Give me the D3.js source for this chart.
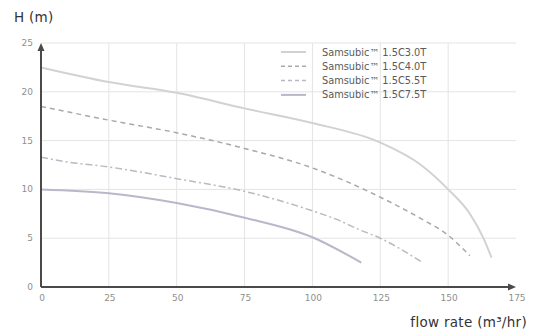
<!DOCTYPE html>
<html>
<head>
<meta charset="utf-8">
<script src="https://cdn.jsdelivr.net/npm/d3@7"></script>
<style>
  html, body { margin: 0; padding: 0; background: #fff; }
  svg { display: block; }
</style>
</head>
<body>
<svg id="chart" width="545" height="332"></svg>
<script>
// ---- data ----
const xTicks = [0, 25, 50, 75, 100, 125, 150, 175];
const yTicks = [0, 5, 10, 15, 20, 25];
const seriesNames = ["Samsubic\u2122 1.5C3.0T", "Samsubic\u2122 1.5C4.0T", "Samsubic\u2122 1.5C5.5T", "Samsubic\u2122 1.5C7.5T"];
const flow1 = [0, 25, 50, 75, 100, 125, 140, 150, 158, 163, 166];
const head1 = [22.5, 21.0, 19.9, 18.3, 16.8, 14.8, 12.5, 10.0, 7.5, 5.0, 3.0];
const flow2 = [0, 25, 50, 75, 100, 125, 140, 150, 158];
const head2 = [18.5, 17.1, 15.8, 14.2, 12.2, 9.2, 7.0, 5.3, 3.2];
const flow3 = [0, 10, 25, 50, 75, 100, 110, 117, 125, 133, 140];
const head3 = [13.3, 12.8, 12.3, 11.1, 9.8, 7.8, 6.8, 5.9, 5.0, 3.8, 2.6];
const flow4 = [0, 25, 50, 75, 100, 118];
const head4 = [10.0, 9.6, 8.6, 7.1, 5.1, 2.5];

const flows = [flow1, flow2, flow3, flow4];
const heads = [head1, head2, head3, head4];
const styles = [
  { color: "#d2d2d2", width: 2, dash: null },
  { color: "#a9a9a9", width: 1.5, dash: "5,4" },
  { color: "#b9b9c4", width: 1.5, dash: "7,3,2,3" },
  { color: "#b7b8c9", width: 2, dash: null }
];

// ---- layout ----
const svg = d3.select("#chart");
const x = d3.scaleLinear().domain([0, 175]).range([41, 516]);
const y = d3.scaleLinear().domain([0, 25]).range([287, 43]);

// gridlines
svg.append("g").selectAll("line.h").data(yTicks.filter(d => d > 0)).join("line")
  .attr("x1", x(0)).attr("x2", x(175))
  .attr("y1", d => y(d)).attr("y2", d => y(d))
  .attr("stroke", "#e4e4e4").attr("stroke-width", 1);
svg.append("g").selectAll("line.v").data(xTicks.filter(d => d > 0 && d < 175)).join("line")
  .attr("x1", d => x(d)).attr("x2", d => x(d))
  .attr("y1", y(25)).attr("y2", y(0))
  .attr("stroke", "#e4e4e4").attr("stroke-width", 1);

// series
const line = d3.line().x(d => x(d[0])).y(d => y(d[1])).curve(d3.curveMonotoneX);
flows.forEach((f, i) => {
  const pts = f.map((v, j) => [v, heads[i][j]]);
  svg.append("path").datum(pts)
    .attr("d", line)
    .attr("fill", "none")
    .attr("stroke", styles[i].color)
    .attr("stroke-width", styles[i].width)
    .attr("stroke-dasharray", styles[i].dash);
});

// axes
const axisColor = "#4a4a4a";
svg.append("line").attr("x1", x(0)).attr("x2", x(175) - 4).attr("y1", y(0)).attr("y2", y(0))
  .attr("stroke", axisColor).attr("stroke-width", 2);
svg.append("line").attr("x1", x(0)).attr("x2", x(0)).attr("y1", y(0)).attr("y2", y(25) + 4)
  .attr("stroke", axisColor).attr("stroke-width", 2);
// arrowheads
svg.append("path")
  .attr("d", `M${x(175)},${y(0)} l-8,-3.5 l0,7 z`)
  .attr("fill", axisColor);
svg.append("path")
  .attr("d", `M${x(0)},${y(25)} l-3.5,8 l7,0 z`)
  .attr("fill", axisColor);

// tick labels
svg.append("g").selectAll("text").data(xTicks).join("text")
  .attr("x", d => x(d) + 1).attr("y", 301)
  .attr("text-anchor", "middle")
  .attr("font-family", "DejaVu Sans, sans-serif").attr("font-size", 9)
  .attr("fill", "#8f8f8f")
  .text(d => d);
svg.append("g").selectAll("text").data(yTicks).join("text")
  .attr("x", 33).attr("y", d => y(d) + 3)
  .attr("text-anchor", "end")
  .attr("font-family", "DejaVu Sans, sans-serif").attr("font-size", 9)
  .attr("fill", "#8f8f8f")
  .text(d => d);

// axis titles
svg.append("text").attr("x", 14).attr("y", 22)
  .attr("font-family", "DejaVu Sans, sans-serif").attr("font-size", 13.5)
  .attr("letter-spacing", 0.3)
  .attr("fill", "#333").text("H (m)");
svg.append("text").attr("x", 527).attr("y", 327)
  .attr("text-anchor", "end")
  .attr("font-family", "DejaVu Sans, sans-serif").attr("font-size", 13.5)
  .attr("letter-spacing", 0.3)
  .attr("fill", "#333").text("flow rate (m\u00B3/hr)");

// legend
const lg = svg.append("g");
seriesNames.forEach((name, i) => {
  const ly = 52 + i * 14.3;
  lg.append("line").attr("x1", 281).attr("x2", 306).attr("y1", ly).attr("y2", ly)
    .attr("stroke", styles[i].color).attr("stroke-width", styles[i].width)
    .attr("stroke-dasharray", styles[i].dash ? "4,3" : null);
  lg.append("text").attr("x", 322).attr("y", ly + 3.5)
    .attr("font-family", "DejaVu Sans, sans-serif").attr("font-size", 9.8)
    .attr("fill", "#5a5a5a").text(name);
});
</script>
</body>
</html>
